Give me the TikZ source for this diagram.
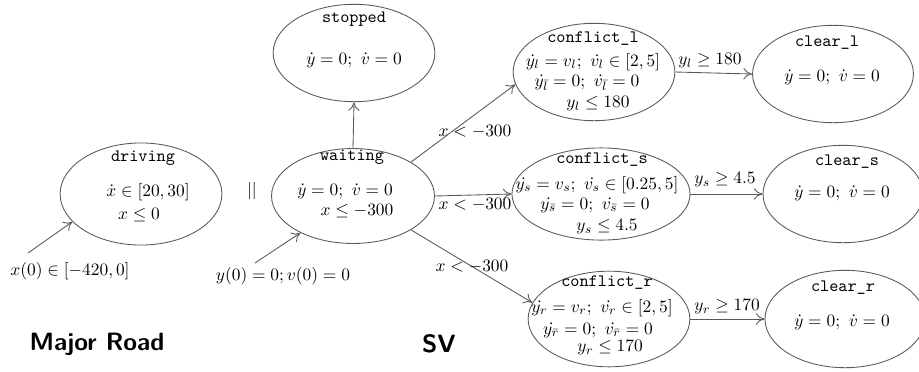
\documentclass[tikz,border=0pt]{standalone}
\usetikzlibrary{shapes.geometric,arrows.meta}

\tikzset{
  loc/.style={draw=black!65, line width=0.5pt, ellipse, inner sep=0pt, minimum width=93pt, minimum height=56pt},
  trans/.style={-{To[length=5pt,width=6.5pt]}, draw=black!65, line width=0.5pt},
  lbl/.style={inner sep=1pt},
}

\begin{document}
\begin{tikzpicture}[x=0.575pt, y=-0.575pt]
      \useasboundingbox (0,0) rectangle (919,371);

      % major road automaton
      \node[loc, minimum height=58.7pt] (driving) at (141,194) {};
      \node[lbl] (driving-t) at (143,158) {\texttt{driving}};
      \node[lbl] (driving-f) at (148,192) {$\dot x \in [20,30]$};
      \node[lbl] (driving-i) at (139,215) {$x \leq 0$};

      \coordinate (d0) at (28,253);
      \node[lbl] (driving-0) at (70,271) {$x(0) \in [-420,0]$};
      \draw[trans] (d0) -- (driving.202);

      \node[lbl] (par) at (252,191) {$||$};

      % SV automaton
      \node[loc, minimum width=93.7pt, minimum height=54.6pt] (waiting) at (353,196) {};
      \node[lbl] (waiting-t) at (352,157) {\texttt{waiting}};
      \node[lbl] (waiting-f) at (345,191) {$\dot y = 0;\ \dot v = 0$};
      \node[lbl] (waiting-i) at (357,211) {$x \leq -300$};

      \coordinate (w0) at (255,263);
      \node[lbl] (waiting-0) at (283,276) {$y(0) = 0; v(0) = 0$};
      \draw[trans] (w0) -- (waiting.215);

      \node[loc] (stopped) at (354,53) {};
      \node[lbl] (stopped-t) at (354,19) {\texttt{stopped}};
      \node[lbl] (stopped-f) at (354,60) {$\dot y = 0;\ \dot v = 0$};

      \node[loc] (confl) at (594,72) {};
      \node[lbl] (confl-t) at (593,39) {\texttt{conflict\_l}};
      \node[lbl] (confl-f) at (593,62) {$\dot{y_l} = v_l;\ \dot{v_l} \in [2,5]$};
      \node[lbl] (confl-g) at (587,83) {$\dot{y_{\bar l}} = 0;\ \dot{v_{\bar l}} = 0$};
      \node[lbl] (confl-i) at (598,104) {$y_l \leq 180$};

      \node[loc, minimum width=102.4pt, minimum height=53pt] (confs) at (601,194) {};
      \node[lbl] (confs-t) at (602,160) {\texttt{conflict\_s}};
      \node[lbl] (confs-f) at (597,185) {$\dot{y_s} = v_s;\ \dot{v_s} \in [0.25,5]$};
      \node[lbl] (confs-g) at (595,205) {$\dot{y_{\bar s}} = 0;\ \dot{v_{\bar s}} = 0$};
      \node[lbl] (confs-i) at (607,227) {$y_s \leq 4.5$};

      \node[loc, minimum height=55pt] (confr) at (609,319) {};
      \node[lbl] (confr-t) at (607,283) {\texttt{conflict\_r}};
      \node[lbl] (confr-f) at (602,308) {$\dot{y_r} = v_r;\ \dot{v_r} \in [2,5]$};
      \node[lbl] (confr-g) at (598,330) {$\dot{y_{\bar r}} = 0;\ \dot{v_{\bar r}} = 0$};
      \node[lbl] (confr-i) at (610,348) {$y_r \leq 170$};

      \node[loc, minimum width=92.5pt] (clearl) at (833,74) {};
      \node[lbl] (clearl-t) at (827,43) {\texttt{clear\_l}};
      \node[lbl] (clearl-f) at (832,77) {$\dot y = 0;\ \dot v = 0$};

      \node[loc, minimum width=92pt] (clears) at (843,194) {};
      \node[lbl] (clears-t) at (847,162) {\texttt{clear\_s}};
      \node[lbl] (clears-f) at (842,193) {$\dot y = 0;\ \dot v = 0$};

      \node[loc, minimum width=92pt] (clearr) at (845,319) {};
      \node[lbl] (clearr-t) at (843,288) {\texttt{clear\_r}};
      \node[lbl] (clearr-f) at (842,322) {$\dot y = 0;\ \dot v = 0$};

      % transitions
      \draw[trans] (waiting.north) -- (stopped.south);
      \draw[trans] (waiting.north east) -- (confl.189);
      \draw[trans] (waiting.east) -- (confs.west);
      \draw[trans] (waiting.south east) -- (confr.168);
      \node[lbl] (g-l) at (475,132) {$x < -300$};
      \node[lbl] (g-s) at (475,205) {$x < -300$};
      \node[lbl] (g-r) at (472,267) {$x < -300$};

      \draw[trans] (confl.east) -- (clearl.west);
      \draw[trans] (confs.east) -- (clears.west);
      \draw[trans] (confr.east) -- (clearr.west);
      \node[lbl] (c-l) at (710,61) {$y_l \geq 180$};
      \node[lbl] (c-s) at (725,180) {$y_s \geq 4.5$};
      \node[lbl] (c-r) at (727,307) {$y_r \geq 170$};

      \node (road) at (97,344) {\sffamily\bfseries\Large Major Road};
      \node (sv) at (439,344) {\sffamily\bfseries\Large SV};
\end{tikzpicture}
\end{document}
